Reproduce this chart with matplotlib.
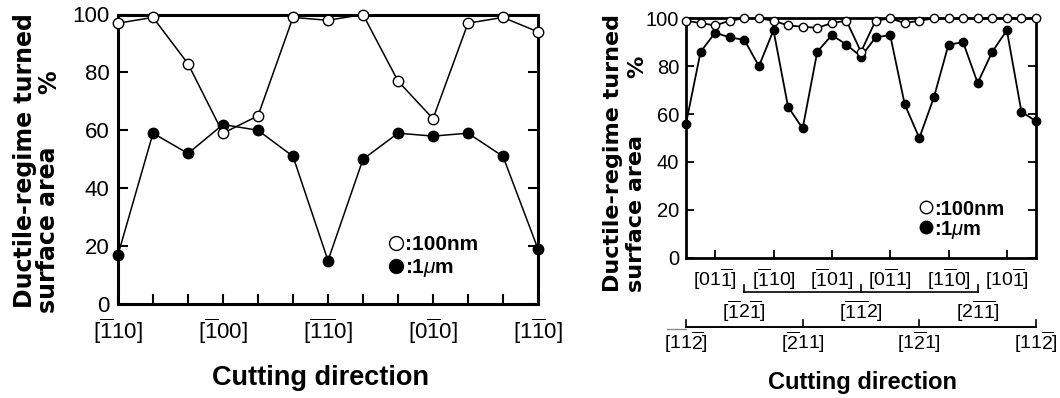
import matplotlib
matplotlib.use('Agg')
import matplotlib.pyplot as plt
from matplotlib.transforms import blended_transform_factory
from matplotlib.lines import Line2D

plt.rcParams['font.family'] = ['Liberation Sans', 'DejaVu Sans']
plt.rcParams['mathtext.fontset'] = 'custom'
plt.rcParams['mathtext.rm'] = 'Liberation Sans'
plt.rcParams['mathtext.it'] = 'Liberation Sans:italic'
plt.rcParams['mathtext.bf'] = 'Liberation Sans:bold'

# ---------------- data ----------------
left_idx = list(range(13))
left_100nm = [97, 99, 83, 59, 65, 99, 98, 100, 77, 64, 97, 99, 94]
left_1um = [17, 59, 52, 62, 60, 51, 15, 50, 59, 58, 59, 51, 19]
left_tick_pos = [0, 3, 6, 9, 12]
left_tick_labels = [r'$[\overline{1}10]$', r'$[\overline{1}00]$',
                    r'$[\overline{1}\overline{1}0]$', r'$[0\overline{1}0]$',
                    r'$[1\overline{1}0]$']

right_idx = list(range(25))
right_100nm = [99, 98, 97, 99, 100, 100, 99, 97, 96.5, 96, 98, 99, 86,
               99, 100, 98, 99, 100, 100, 100, 100, 100, 100, 100, 100]
right_1um = [56, 86, 94, 92, 91, 80, 95, 63, 54, 86, 93, 89, 84, 92, 93,
             64, 50, 67, 89, 90, 73, 86, 95, 61, 57]
row1_pos = [2, 6, 10, 14, 18, 22]
row1_labels = [r'$[01\overline{1}]$', r'$[\overline{1}10]$', r'$[\overline{1}01]$',
               r'$[0\overline{1}1]$', r'$[1\overline{1}0]$', r'$[10\overline{1}]$']
row2_pos = [4, 12, 20]
row2_labels = [r'$[\overline{1}2\overline{1}]$', r'$[\overline{1}\overline{1}2]$',
               r'$[2\overline{1}\overline{1}]$']
row3_pos = [0, 8, 16, 24]
row3_labels = [r'$[11\overline{2}]$', r'$[\overline{2}11]$', r'$[1\overline{2}1]$',
               r'$[11\overline{2}]$']

yticks = [0, 20, 40, 60, 80, 100]

W, H = 1060, 398
fig = plt.figure(figsize=(W / 100, H / 100), dpi=100)

def px_axes(x0, x1, ytop, ybot):
    return fig.add_axes([x0 / W, 1 - ybot / H, (x1 - x0) / W, (ybot - ytop) / H])

YLAB = dict(rotation=90, ha='center', va='center', fontweight='bold',
            family=['DejaVu Sans'])

# ---------------- left panel ----------------
axL = px_axes(118, 538, 14.5, 304)
axL.plot(left_idx, left_1um, '-o', color='k', lw=1.1, ms=7.5,
         mfc='k', mec='k', clip_on=False, zorder=3)
axL.plot(left_idx, left_100nm, '-o', color='k', lw=1.1, ms=7.5,
         mfc='white', mec='k', mew=1.0, clip_on=False, zorder=4)
axL.set_xlim(0, 12)
axL.set_ylim(0, 100)
axL.set_xticks(left_idx)
axL.set_xticklabels([left_tick_labels[left_tick_pos.index(i)] if i in left_tick_pos else ''
                     for i in left_idx], fontsize=16)
axL.set_yticks(yticks)
axL.set_yticklabels([str(v) for v in yticks], fontsize=16)
axL.tick_params(axis='x', direction='in', length=7, width=1.5, pad=9)
axL.tick_params(axis='y', direction='in', length=7, width=1.5, pad=6,
                right=True)
for s in axL.spines.values():
    s.set_linewidth(2.2)

axL.legend(handles=[
    Line2D([], [], ls='none', marker='o', ms=10, mfc='white', mec='k', mew=1.0),
    Line2D([], [], ls='none', marker='o', ms=10, mfc='k', mec='k')],
    labels=[':100nm', r':1$\mu$m'], loc='upper left',
    bbox_to_anchor=(0.648, 0.237), frameon=False, borderpad=0, borderaxespad=0,
    handlelength=0.6, handletextpad=0.1, labelspacing=0.12,
    prop={'weight': 'bold', 'size': 15})

fig.text(25 / W, 1 - 161 / H, 'Ductile-regime turned', fontsize=17, **YLAB)
fig.text(48.5 / W, 1 - 230 / H, 'surface area', fontsize=17, **YLAB)
fig.text(49 / W, 1 - 82 / H, '%', fontsize=17, **YLAB)
fig.text(320 / W, 1 - 378 / H, 'Cutting direction', ha='center', va='center',
         fontsize=19.5, fontweight='bold')

# ---------------- right panel ----------------
axR = px_axes(686, 1036, 18.3, 257.7)
axR.plot(right_idx, right_1um, '-o', color='k', lw=1.3, ms=6,
         mfc='k', mec='k', clip_on=False, zorder=3)
axR.plot(right_idx, right_100nm, '-o', color='k', lw=1.3, ms=6,
         mfc='white', mec='k', mew=1.0, clip_on=False, zorder=4)
axR.set_xlim(0, 24)
axR.set_ylim(0, 100)
axR.set_xticks(row1_pos)
axR.set_xticklabels(row1_labels, fontsize=14)
axR.set_yticks(yticks)
axR.set_yticklabels([str(v) for v in yticks], fontsize=14.5)
axR.tick_params(axis='x', direction='in', length=6, width=1.3, pad=6)
axR.tick_params(axis='y', direction='in', length=6, width=1.3, pad=5,
                right=True)
for s in axR.spines.values():
    s.set_linewidth(2.0)

trans = blended_transform_factory(axR.transData, axR.transAxes)
row2_y, row3_y, tick_h = -0.143, -0.288, 0.027
axR.plot([row2_pos[0], row2_pos[-1]], [row2_y, row2_y], transform=trans,
         clip_on=False, color='k', lw=1.2)
for p in row2_pos:
    axR.plot([p, p], [row2_y, row2_y + tick_h], transform=trans,
             clip_on=False, color='k', lw=1.2)
for p, lab in zip(row2_pos, row2_labels):
    axR.text(p, -0.222, lab, transform=trans, ha='center', va='center', fontsize=14)

axR.plot([row3_pos[0], row3_pos[-1]], [row3_y, row3_y], transform=trans,
         clip_on=False, color='k', lw=1.4)
axR.plot([row3_pos[0] - 1.3, row3_pos[0]], [row3_y - 0.01, row3_y - 0.01],
         transform=trans, clip_on=False, color='0.55', lw=1.0)
for p in row3_pos:
    axR.plot([p, p], [row3_y, row3_y + tick_h], transform=trans,
             clip_on=False, color='k', lw=1.2)
for p, lab in zip(row3_pos, row3_labels):
    axR.text(p, -0.352, lab, transform=trans, ha='center', va='center', fontsize=14)

axR.legend(handles=[
    Line2D([], [], ls='none', marker='o', ms=9, mfc='white', mec='k', mew=1.0),
    Line2D([], [], ls='none', marker='o', ms=9, mfc='k', mec='k')],
    labels=[':100nm', r':1$\mu$m'], loc='upper left',
    bbox_to_anchor=(0.668, 0.243), frameon=False, borderpad=0, borderaxespad=0,
    handlelength=0.6, handletextpad=0.1, labelspacing=0.0,
    prop={'weight': 'bold', 'size': 14.5})

fig.text(613 / W, 1 - 153 / H, 'Ductile-regime turned', fontsize=16, **YLAB)
fig.text(635.5 / W, 1 - 213 / H, 'surface area', fontsize=16, **YLAB)
fig.text(637 / W, 1 - 67 / H, '%', fontsize=16, **YLAB)
fig.text(863 / W, 1 - 383 / H, 'Cutting direction', ha='center', va='center',
         fontsize=17, fontweight='bold')

fig.savefig('out.png', dpi=100)
